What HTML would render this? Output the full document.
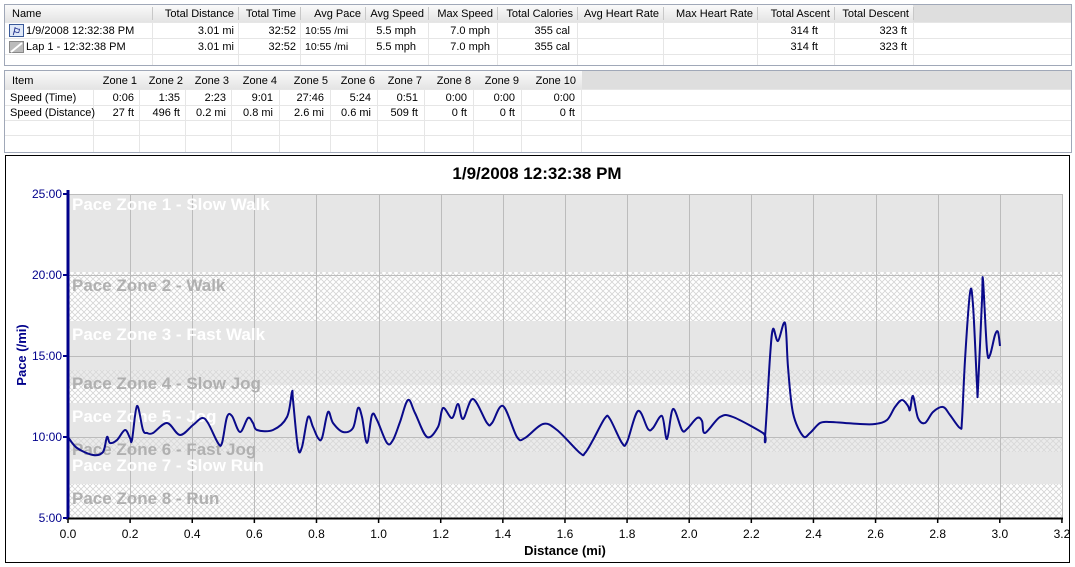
<!DOCTYPE html>
<html><head><meta charset="utf-8"><style>
body{margin:0;background:#fff;width:1075px;height:567px;overflow:hidden;font-family:"Liberation Sans",sans-serif}
svg{display:block}
</style></head><body>
<svg id="s" width="1075" height="567" xmlns="http://www.w3.org/2000/svg" font-family="Liberation Sans, sans-serif">
<defs>
<pattern id="h" width="6" height="6" patternUnits="userSpaceOnUse">
<rect width="6" height="6" fill="#fff"/>
<path d="M0,0L6,6M6,0L0,6" stroke="#d4d4d4" stroke-width="0.8"/>
</pattern>
<pattern id="hg" width="6" height="6" patternUnits="userSpaceOnUse">
<rect width="6" height="6" fill="#ebebeb"/>
<path d="M0,0L6,6M6,0L0,6" stroke="#d8d8d8" stroke-width="0.8"/>
</pattern>
<linearGradient id="hd" x1="0" y1="0" x2="0" y2="1"><stop offset="0" stop-color="#fafafa"/><stop offset="1" stop-color="#e4e4e4"/></linearGradient>
</defs>

<!-- Table 1 -->
<rect x="4.5" y="4.5" width="1067" height="61" fill="#fff" stroke="#a0a8b8"/>
<rect x="5" y="5" width="1066" height="17" fill="url(#hd)"/>
<rect x="913" y="5" width="158" height="17" fill="#dedede"/>
<g stroke="#e6e6e6">
<line x1="5" y1="38.5" x2="1071" y2="38.5"/><line x1="5" y1="54.5" x2="1071" y2="54.5"/><line x1="5" y1="22.5" x2="1071" y2="22.5"/>
<line x1="152.5" y1="22" x2="152.5" y2="65"/><line x1="238.5" y1="22" x2="238.5" y2="65"/><line x1="300.5" y1="22" x2="300.5" y2="65"/><line x1="365.5" y1="22" x2="365.5" y2="65"/><line x1="428.5" y1="22" x2="428.5" y2="65"/><line x1="497.5" y1="22" x2="497.5" y2="65"/><line x1="577.5" y1="22" x2="577.5" y2="65"/><line x1="663.5" y1="22" x2="663.5" y2="65"/><line x1="757.5" y1="22" x2="757.5" y2="65"/><line x1="834.5" y1="22" x2="834.5" y2="65"/><line x1="913.5" y1="22" x2="913.5" y2="65"/>
</g>
<g stroke="#c8c8c8">
<line x1="152.5" y1="7" x2="152.5" y2="20"/><line x1="238.5" y1="7" x2="238.5" y2="20"/><line x1="300.5" y1="7" x2="300.5" y2="20"/><line x1="365.5" y1="7" x2="365.5" y2="20"/><line x1="428.5" y1="7" x2="428.5" y2="20"/><line x1="497.5" y1="7" x2="497.5" y2="20"/><line x1="577.5" y1="7" x2="577.5" y2="20"/><line x1="663.5" y1="7" x2="663.5" y2="20"/><line x1="757.5" y1="7" x2="757.5" y2="20"/><line x1="834.5" y1="7" x2="834.5" y2="20"/><line x1="913.5" y1="7" x2="913.5" y2="20"/>
</g>
<g font-size="11" fill="#000">
<text x="12" y="17">Name</text>
<g text-anchor="end">
<text x="234" y="17">Total Distance</text><text x="296" y="17">Total Time</text><text x="361" y="17">Avg Pace</text><text x="424" y="17">Avg Speed</text><text x="493" y="17">Max Speed</text><text x="573" y="17">Total Calories</text><text x="659" y="17">Avg Heart Rate</text><text x="753" y="17">Max Heart Rate</text><text x="830" y="17">Total Ascent</text><text x="909" y="17">Total Descent</text>
<text x="234" y="34">3.01 mi</text><text x="296" y="34">32:52</text><text x="416" y="34">5.5 mph</text><text x="490" y="34">7.0 mph</text><text x="570" y="34">355 cal</text><text x="818" y="34">314 ft</text><text x="907" y="34">323 ft</text>
<text x="234" y="50">3.01 mi</text><text x="296" y="50">32:52</text><text x="416" y="50">5.5 mph</text><text x="490" y="50">7.0 mph</text><text x="570" y="50">355 cal</text><text x="818" y="50">314 ft</text><text x="907" y="50">323 ft</text>
</g>
<text x="305" y="34" font-size="10.5">10:55 /mi</text>
<text x="305" y="50" font-size="10.5">10:55 /mi</text>
<text x="26" y="34">1/9/2008 12:32:38 PM</text>
<text x="26" y="50">Lap 1 - 12:32:38 PM</text>
</g>
<rect x="9.5" y="24.5" width="14" height="12" fill="#dfe8f8" stroke="#3a5a9a"/>
<text x="11" y="35" font-size="10" fill="#1a2a8a" font-style="italic" font-weight="bold">⚐</text>
<rect x="9.5" y="41.5" width="14" height="11" fill="#bbb" stroke="#888"/>
<path d="M11,52L22,43" stroke="#fff" stroke-width="2"/>

<!-- Table 2 -->
<rect x="4.5" y="70.5" width="1067" height="82" fill="#fff" stroke="#a0a8b8"/>
<rect x="5" y="71" width="1066" height="18" fill="url(#hd)"/>
<rect x="582" y="71" width="489" height="18" fill="#dedede"/>
<g stroke="#e6e6e6">
<line x1="5" y1="89.5" x2="1071" y2="89.5"/><line x1="5" y1="105.5" x2="1071" y2="105.5"/><line x1="5" y1="120.5" x2="1071" y2="120.5"/><line x1="5" y1="135.5" x2="1071" y2="135.5"/>
<line x1="93.5" y1="89" x2="93.5" y2="152"/><line x1="139.5" y1="89" x2="139.5" y2="152"/><line x1="185.5" y1="89" x2="185.5" y2="152"/><line x1="231.5" y1="89" x2="231.5" y2="152"/><line x1="279.5" y1="89" x2="279.5" y2="152"/><line x1="330.5" y1="89" x2="330.5" y2="152"/><line x1="377.5" y1="89" x2="377.5" y2="152"/><line x1="424.5" y1="89" x2="424.5" y2="152"/><line x1="473.5" y1="89" x2="473.5" y2="152"/><line x1="521.5" y1="89" x2="521.5" y2="152"/><line x1="581.5" y1="89" x2="581.5" y2="152"/>
</g>
<g font-size="11" fill="#000">
<text x="12" y="84">Item</text>
<text x="10" y="101">Speed (Time)</text>
<text x="10" y="116">Speed (Distance)</text>
<g text-anchor="end">
<text x="137" y="84">Zone 1</text><text x="183" y="84">Zone 2</text><text x="229" y="84">Zone 3</text><text x="277" y="84">Zone 4</text><text x="328" y="84">Zone 5</text><text x="375" y="84">Zone 6</text><text x="422" y="84">Zone 7</text><text x="471" y="84">Zone 8</text><text x="519" y="84">Zone 9</text><text x="576" y="84">Zone 10</text>
<text x="134" y="101">0:06</text><text x="180" y="101">1:35</text><text x="226" y="101">2:23</text><text x="273" y="101">9:01</text><text x="324" y="101">27:46</text><text x="371" y="101">5:24</text><text x="418" y="101">0:51</text><text x="467" y="101">0:00</text><text x="515" y="101">0:00</text><text x="575" y="101">0:00</text>
<text x="134" y="116">27 ft</text><text x="180" y="116">496 ft</text><text x="226" y="116">0.2 mi</text><text x="273" y="116">0.8 mi</text><text x="324" y="116">2.6 mi</text><text x="371" y="116">0.6 mi</text><text x="418" y="116">509 ft</text><text x="467" y="116">0 ft</text><text x="515" y="116">0 ft</text><text x="575" y="116">0 ft</text>
</g></g>

<!-- Chart frame -->
<rect x="5.5" y="155.5" width="1064" height="407" fill="#fff" stroke="#000"/>
<text x="537" y="179" font-size="17" font-weight="bold" text-anchor="middle">1/9/2008 12:32:38 PM</text>

<!-- zones -->
<rect x="68" y="194" width="994" height="78" fill="#e6e6e6"/>
<rect x="68" y="272" width="994" height="49" fill="url(#h)"/>
<rect x="68" y="321" width="994" height="49" fill="#e6e6e6"/>
<rect x="68" y="370" width="994" height="15" fill="url(#hg)"/>
<rect x="68" y="385" width="994" height="18" fill="url(#h)"/>
<rect x="68" y="403" width="994" height="34" fill="#e6e6e6"/>
<rect x="68" y="437" width="994" height="15" fill="url(#hg)"/>
<rect x="68" y="452" width="994" height="32" fill="#e6e6e6"/>
<rect x="68" y="484" width="994" height="34" fill="url(#h)"/>

<g id="grid" stroke="#bcbcbc" stroke-width="1"></g>

<g font-size="17" font-weight="bold">
<text x="72" y="210" fill="#fff">Pace Zone 1 - Slow Walk</text>
<text x="72" y="291" fill="#b0b0b0">Pace Zone 2 - Walk</text>
<text x="72" y="340" fill="#fff">Pace Zone 3 - Fast Walk</text>
<text x="72" y="389" fill="#b0b0b0">Pace Zone 4 - Slow Jog</text>
<text x="72" y="422" fill="#fff">Pace Zone 5 - Jog</text>
<text x="72" y="455" fill="#b0b0b0">Pace Zone 6 - Fast Jog</text>
<text x="72" y="471" fill="#fff">Pace Zone 7 - Slow Run</text>
<text x="72" y="504" fill="#b0b0b0">Pace Zone 8 - Run</text>
</g>

<path id="line" fill="none" stroke="#0a0a8a" stroke-width="2" stroke-linejoin="round"/>

<!-- axes -->
<line x1="68" y1="190" x2="68" y2="519" stroke="#00008b" stroke-width="3"/>
<line x1="66" y1="518.5" x2="1063" y2="518.5" stroke="#000" stroke-width="2"/>
<g id="ticks"></g>
<g font-size="12" fill="#00008b" text-anchor="end">
<text x="62" y="198">25:00</text><text x="62" y="279">20:00</text><text x="62" y="360">15:00</text><text x="62" y="441">10:00</text><text x="62" y="522">5:00</text>
</g>
<text transform="translate(26,355) rotate(-90)" font-size="13" font-weight="bold" fill="#00008b" text-anchor="middle">Pace (/mi)</text>
<text x="565" y="555" font-size="13" font-weight="bold" text-anchor="middle">Distance (mi)</text>
<g id="xl" font-size="12" text-anchor="middle"></g>
</svg>
<script>
var NS="http://www.w3.org/2000/svg";
function el(p,t,a,txt){var e=document.createElementNS(NS,t);for(var k in a)e.setAttribute(k,a[k]);if(txt)e.textContent=txt;document.getElementById(p).appendChild(e);}
var x0=68,pm=310.6;
for(var i=1;i<=16;i++){var x=Math.round(x0+i*pm*0.2)+0.5;el("grid","line",{x1:x,y1:194,x2:x,y2:518});}
[194,275,356,437].forEach(function(y){el("grid","line",{x1:68,y1:y+0.5,x2:1062,y2:y+0.5});});
for(var i=0;i<=16;i++){var x=x0+i*pm*0.2;el("ticks","line",{x1:x,y1:518,x2:x,y2:523,stroke:"#000","stroke-width":1.5});
el("xl","text",{x:x,y:538},(i*0.2).toFixed(1));}
[194,275,356,437,518].forEach(function(y){el("ticks","line",{x1:63,y1:y,x2:68,y2:y,stroke:"#00008b","stroke-width":2});});
var P=[[68,437],[77,448],[93,455],[103,452],[107,437],[110,443],[117,440],[125,430],[130,438],[132,440],[137,406],[143,430],[147,433],[153,433],[167,423],[180,435],[193,425],[202,418],[208,423],[218,443],[222,443],[227,417],[232,416],[240,432],[248,418],[253,423],[257,430],[273,430],[287,417],[292,392],[293,400],[298,448],[302,447],[308,417],[313,427],[318,438],[322,438],[328,412],[333,423],[343,432],[353,428],[358,408],[362,417],[367,443],[372,415],[377,420],[387,443],[393,440],[400,422],[408,400],[415,413],[427,437],[438,427],[443,408],[452,418],[458,404],[463,419],[473,399],[487,423],[492,423],[503,406],[517,437],[525,438],[543,424],[557,430],[580,453],[585,453],[593,440],[605,418],[610,419],[622,443],[627,442],[638,411],[648,429],[653,428],[662,416],[667,439],[673,409],[682,430],[687,429],[697,418],[702,421],[705,433],[720,417],[733,417],[763,433],[765,437],[770,357],[773,329],[778,341],[785,323],[788,367],[793,413],[803,436],[810,433],[820,423],[830,422],[845,423],[860,424],[875,424],[887,420],[895,407],[902,400],[908,406],[910,410],[913,396],[918,418],[925,423],[933,412],[943,407],[950,415],[960,428],[962,420],[965,360],[970,293],[973,305],[977,385],[978,388],[982,300],[983,280],[987,350],[990,355],[995,335],[998,332],[1000,346]];
var d="M"+P[0][0]+","+P[0][1];
for(var i=0;i<P.length-1;i++){var p0=P[Math.max(i-1,0)],p1=P[i],p2=P[i+1],p3=P[Math.min(i+2,P.length-1)];
var c1x=p1[0]+(p2[0]-p0[0])/6,c1y=p1[1]+(p2[1]-p0[1])/6,c2x=p2[0]-(p3[0]-p1[0])/6,c2y=p2[1]-(p3[1]-p1[1])/6;
d+=" C"+c1x.toFixed(1)+","+c1y.toFixed(1)+" "+c2x.toFixed(1)+","+c2y.toFixed(1)+" "+p2[0]+","+p2[1];}
document.getElementById("line").setAttribute("d",d);
</script>
</body></html>
